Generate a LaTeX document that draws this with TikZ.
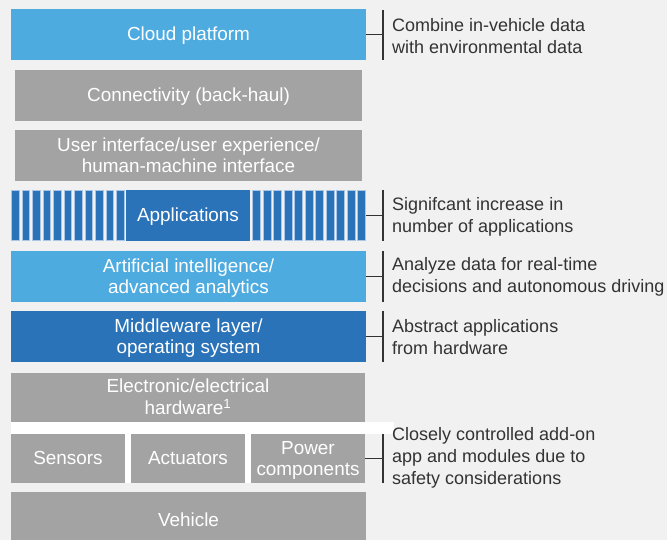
\documentclass[tikz,border=0pt]{standalone}
\usepackage{fontspec}
\setmainfont{Liberation Sans}
\definecolor{bg}{HTML}{F1F1F1}
\definecolor{lblue}{HTML}{4EABE0}
\definecolor{dblue}{HTML}{2B73B9}
\definecolor{gbox}{HTML}{A3A3A3}
\definecolor{stripeedge}{HTML}{A9C6E6}
\definecolor{txt}{HTML}{333333}
\newcommand{\lowtxt}[1]{\raisebox{-2pt}[\height][\depth]{\begin{tabular}{@{}c@{}}#1\end{tabular}}}
\begin{document}
\begin{tikzpicture}[x=1pt,y=-1pt,
  layer/.style={rectangle, inner sep=0pt, text=white, align=center,
    font=\fontsize{18.9}{21.5}\selectfont},
  note/.style={anchor=west, inner sep=0pt, text=txt, align=left,
    font=\fontsize{18}{22}\selectfont},
  bracket/.style={draw=txt, line width=1.3pt},
  stripe/.style={fill=dblue, draw=stripeedge, line width=0.8pt}]
\useasboundingbox (0,0) rectangle (667,540);
\clip (0,0) rectangle (667,540);
\fill[bg] (0,0) rectangle (667,540);

% layers
\node[layer, fill=lblue, minimum width=355pt, minimum height=51pt] (cloud) at (188.5,34.5) {\lowtxt{Cloud platform}};
\node[layer, fill=gbox, minimum width=347pt, minimum height=51pt] (conn) at (188.5,95.5) {\lowtxt{Connectivity (back-haul)}};
\node[layer, fill=gbox, minimum width=347pt, minimum height=51pt] (ui) at (188.5,155.5) {\lowtxt{User interface/user experience/\\human-machine interface}};

% application stripes
\foreach \i in {0,...,10} {
  \path[stripe] (11.4+\i*10.5,190.5) rectangle ++(7.8,50);
  \path[stripe] (252.7+\i*10.5,190.5) rectangle ++(7.8,50);
}
\node[layer, fill=dblue, minimum width=124pt, minimum height=51pt] (apps) at (188,215.5) {\lowtxt{Applications}};

\node[layer, fill=lblue, minimum width=355pt, minimum height=51pt] (ai) at (188.5,276.5) {\lowtxt{Artificial intelligence/\\advanced analytics}};
\node[layer, fill=dblue, minimum width=355pt, minimum height=51pt] (mw) at (188.5,336.5) {\lowtxt{Middleware layer/\\operating system}};
\node[layer, fill=gbox, minimum width=354pt, minimum height=49pt] (hw) at (188,397.5) {\lowtxt{Electronic/electrical\\hardware\textsuperscript{1}}};

% white separator
\fill[white] (11,422) rectangle (394,434);
\fill[white] (11,434) rectangle (365,483);

\node[layer, fill=gbox, minimum width=114pt, minimum height=49pt] (sens) at (68,458.5) {\lowtxt{Sensors}};
\node[layer, fill=gbox, minimum width=114pt, minimum height=49pt] (act) at (188,458.5) {\lowtxt{Actuators}};
\node[layer, fill=gbox, minimum width=114pt, minimum height=49pt] (pow) at (308,458.5) {\lowtxt{Power\\components}};
\node[layer, fill=gbox, minimum width=355pt, minimum height=56pt] (veh) at (188.5,520) {\lowtxt{Vehicle}};

% brackets
\coordinate (bc) at (383,34.5);
\coordinate (ba) at (383,215.5);
\coordinate (bi) at (383,276.5);
\coordinate (bm) at (383,336.5);
\coordinate (bp) at (383,458.5);
\draw[bracket] (cloud.east) -- (bc);
\draw[bracket] (bc |- cloud.north) ++(0,1) -- (bc |- cloud.south);
\draw[bracket] (366,215.5) -- (ba);
\draw[bracket] (ba |- apps.north) -- (ba |- apps.south);
\draw[bracket] (ai.east) -- (bi);
\draw[bracket] (bi |- ai.north) -- (bi |- ai.south);
\draw[bracket] (mw.east) -- (bm);
\draw[bracket] (bm |- mw.north) -- (bm |- mw.south);
\draw[bracket] (pow.east) -- (bp);
\draw[bracket] (bp |- pow.north) -- (bp |- pow.south);

% notes
\node[note] (nc) at (392,36) {Combine in-vehicle data\\with environmental data};
\node[note] (na) at (392,217) {Signifcant increase in\\number of applications};
\node[note] (ni) at (392,277) {Analyze data for real-time\\decisions and autonomous driving};
\node[note] (nm) at (392,337) {Abstract applications\\from hardware};
\node[note] (np) at (392,458) {Closely controlled add-on\\app and modules due to\\safety considerations};
\end{tikzpicture}
\end{document}
